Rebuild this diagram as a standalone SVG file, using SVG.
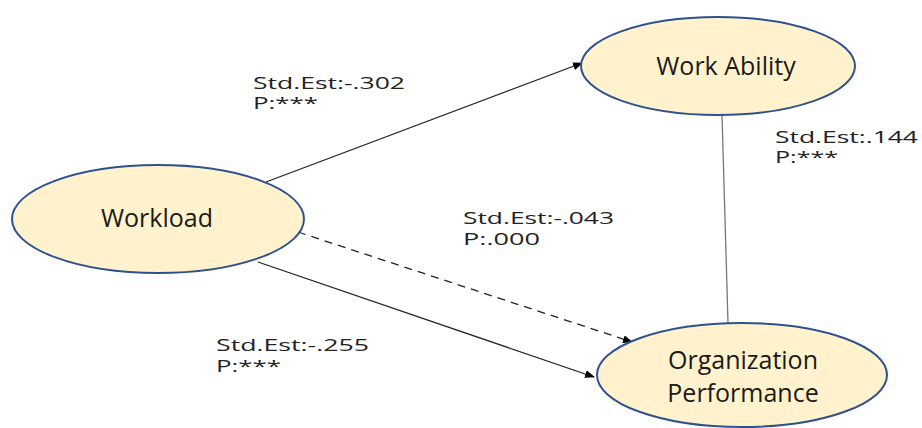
<svg xmlns="http://www.w3.org/2000/svg" width="922" height="428" viewBox="0 0 922 428">
<defs>
<marker id="arr" markerWidth="10" markerHeight="8" refX="9" refY="4" orient="auto" markerUnits="userSpaceOnUse">
<path d="M0,0 L10,4 L0,8 Z" fill="#000"/>
</marker>
<style>
.node{fill:#FFF2CC;stroke:#2F528F;stroke-width:2}
.nt{font-family:"Open Sans","Noto Sans",sans-serif;font-size:25px;fill:#1a1a1a;text-anchor:middle}
.lb{font-family:"Open Sans","Noto Sans",sans-serif;font-size:16px;fill:#222}
.ln{stroke:#222;stroke-width:1.3;fill:none}
</style>
</defs>
<rect width="922" height="428" fill="#fff"/>
<g id="connectors">
<line class="ln" x1="266" y1="182" x2="582" y2="63" marker-end="url(#arr)"/>
<line class="ln" x1="298" y1="232" x2="632" y2="342" stroke-dasharray="8,6" marker-end="url(#arr)"/>
<line class="ln" x1="258" y1="262" x2="594" y2="377" marker-end="url(#arr)"/>
<line x1="722" y1="115" x2="728" y2="323" stroke="#777" stroke-width="1.3"/>
</g>
<g id="workload">
<ellipse class="node" cx="158" cy="219" rx="146" ry="54"/>
<text class="nt" x="157" y="227">Workload</text>
</g>
<g id="work-ability">
<ellipse class="node" cx="718" cy="66" rx="137" ry="49"/>
<text class="nt" x="726" y="75">Work Ability</text>
</g>
<g id="org-performance">
<ellipse class="node" cx="742" cy="375" rx="145" ry="52"/>
<text class="nt" x="743" y="369">Organization</text>
<text class="nt" x="743" y="402">Performance</text>
</g>
<g id="labels">
<text class="lb" x="253" y="89" textLength="152" lengthAdjust="spacingAndGlyphs">Std.Est:-.302</text>
<text class="lb" x="253" y="109" textLength="65" lengthAdjust="spacingAndGlyphs">P:***</text>
<text class="lb" x="775" y="143" textLength="143" lengthAdjust="spacingAndGlyphs">Std.Est:.144</text>
<text class="lb" x="775" y="163" textLength="63" lengthAdjust="spacingAndGlyphs">P:***</text>
<text class="lb" x="463" y="224" textLength="151" lengthAdjust="spacingAndGlyphs">Std.Est:-.043</text>
<text class="lb" x="463" y="245" textLength="77" lengthAdjust="spacingAndGlyphs">P:.000</text>
<text class="lb" x="216" y="351" textLength="153" lengthAdjust="spacingAndGlyphs">Std.Est:-.255</text>
<text class="lb" x="216" y="372" textLength="65" lengthAdjust="spacingAndGlyphs">P:***</text>
</g>
</svg>
